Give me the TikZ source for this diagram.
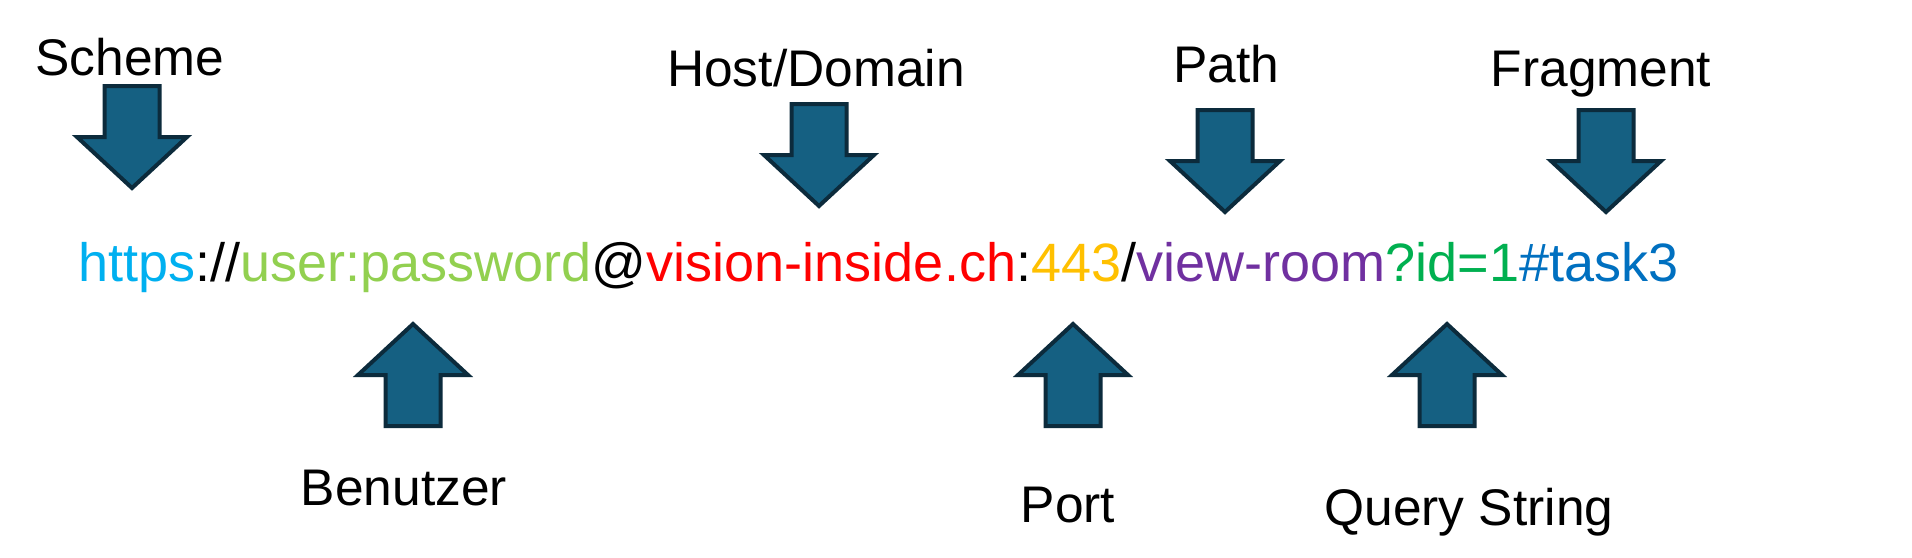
\documentclass[tikz,border=0pt]{standalone}
\usepackage{fontspec}
\setmainfont{Liberation Sans}
\usepackage{graphicx}
\definecolor{arrfill}{HTML}{156082}
\definecolor{arrline}{HTML}{0C2B3C}
\definecolor{cscheme}{HTML}{00B0F0}
\definecolor{cuser}{HTML}{92D050}
\definecolor{chost}{HTML}{FF0000}
\definecolor{cport}{HTML}{FFC000}
\definecolor{cpath}{HTML}{7030A0}
\definecolor{cquery}{HTML}{00B050}
\definecolor{cfrag}{HTML}{0070C0}
\begin{document}
\begin{tikzpicture}[x=0.5pt,y=-0.5pt,
  arrstyle/.style={fill=arrfill,draw=arrline,line width=2pt,line join=miter},
  darr/.pic={\path[arrstyle] (-27.5,2) -- (27.5,2) -- (27.5,53) -- (55,53) -- (0,104) -- (-55,53) -- (-27.5,53) -- cycle;},
  uarr/.pic={\path[arrstyle] (-27.5,105) -- (27.5,105) -- (27.5,54) -- (55,54) -- (0,3) -- (-55,54) -- (-27.5,54) -- cycle;},
  lbl/.style={anchor=base,inner sep=0pt,font=\fontsize{25.75pt}{30pt}\selectfont}]
\path[fill=white] (0,0) rectangle (1912,557);
\useasboundingbox (0,0) rectangle (1912,557);
% labels
\node[lbl] (scheme) at (130,75) {Scheme};
\node[lbl] (host) at (816,86) {Host/Domain};
\node[lbl] (path) at (1226,82) {Path};
\node[lbl] (frag) at (1601,86) {Fragment};
\node[lbl] (user) at (404,505) {Benutzer};
\node[lbl] (port) at (1068,522) {Port};
\node[lbl] (query) at (1469,525) {Query String};
% URL
\node[anchor=base west,inner sep=0pt] (url) at (78,281) {\resizebox{800pt}{!}{\fontsize{27pt}{32pt}\selectfont
  \textcolor{cscheme}{https}://\textcolor{cuser}{user:password}@\textcolor{chost}{vision-inside.ch}:\textcolor{cport}{443}/\textcolor{cpath}{view-room}\textcolor{cquery}{?id=1}\textcolor{cfrag}{\#task3}}};
% arrows
\pic (aScheme) at (132,84) {darr};
\pic (aHost) at (819,102) {darr};
\pic (aPath) at (1225,108) {darr};
\pic (aFrag) at (1606,108) {darr};
\pic (aUser) at (413,321) {uarr};
\pic (aPort) at (1073,321) {uarr};
\pic (aQuery) at (1447,321) {uarr};
\end{tikzpicture}
\end{document}
